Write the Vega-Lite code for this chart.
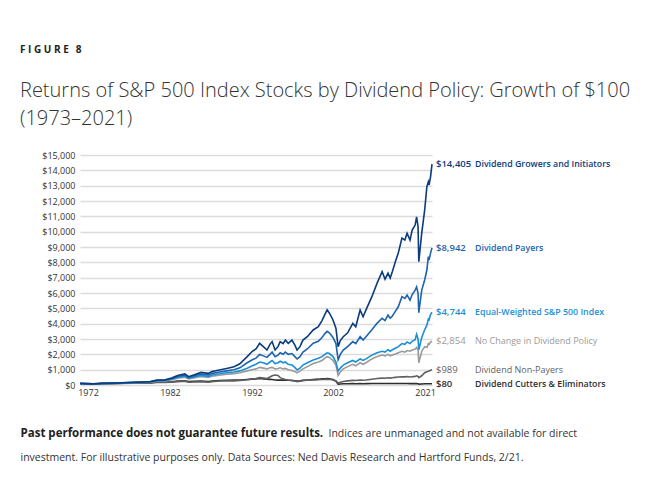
{
"$schema": "https://vega.github.io/schema/vega-lite/v6.json",
"width": 352,
"height": 230,
"autosize": {"type": "none"},
"padding": {"left": 80, "top": 155, "right": 222, "bottom": 115},
"background": "white",
"title": {
  "text": "F I G U R E \u2009 8",
  "subtitle": ["Returns of S&P 500 Index Stocks by Dividend Policy: Growth of $100", "(1973–2021)"],
  "anchor": "start", "frame": "group", "orient": "top",
  "dx": -60, "offset": 22,
  "font": "Open Sans", "fontSize": 10, "fontWeight": "bold", "color": "#222222",
  "subtitleFont": "Open Sans", "subtitleFontSize": 20, "subtitleFontWeight": 300, "subtitleColor": "#333333",
  "subtitleLineHeight": 28, "subtitlePadding": 26
},
"datasets": {
"lines": [
{"s":"C","t":1973,"v":100},{"s":"C","t":1974,"v":85},{"s":"C","t":1974.8,"v":70},{"s":"C","t":1976,"v":90},{"s":"C","t":1978,"v":100},{"s":"C","t":1980,"v":120},{"s":"C","t":1981.5,"v":130},{"s":"C","t":1982.6,"v":140},{"s":"C","t":1983.5,"v":180},{"s":"C","t":1984.5,"v":180},
{"s":"C","t":1985.5,"v":210},{"s":"C","t":1986.3,"v":250},{"s":"C","t":1987.3,"v":280},{"s":"C","t":1987.8,"v":220},{"s":"C","t":1988.5,"v":240},{"s":"C","t":1989.5,"v":260},{"s":"C","t":1990.5,"v":230},{"s":"C","t":1991,"v":260},{"s":"C","t":1992,"v":290},{"s":"C","t":1993,"v":310},
{"s":"C","t":1994,"v":320},{"s":"C","t":1994.8,"v":330},{"s":"C","t":1995.8,"v":360},{"s":"C","t":1996.5,"v":380},{"s":"C","t":1997,"v":400},{"s":"C","t":1997.5,"v":420},{"s":"C","t":1998,"v":400},{"s":"C","t":1998.5,"v":380},{"s":"C","t":1998.9,"v":370},{"s":"C","t":1999.2,"v":360},
{"s":"C","t":1999.6,"v":330},{"s":"C","t":2000,"v":320},{"s":"C","t":2000.3,"v":330},{"s":"C","t":2000.7,"v":320},{"s":"C","t":2001,"v":330},{"s":"C","t":2001.4,"v":310},{"s":"C","t":2001.9,"v":290},{"s":"C","t":2002.3,"v":270},{"s":"C","t":2002.6,"v":250},{"s":"C","t":2003,"v":270},
{"s":"C","t":2003.4,"v":300},{"s":"C","t":2004,"v":330},{"s":"C","t":2004.8,"v":360},{"s":"C","t":2005.5,"v":380},{"s":"C","t":2006,"v":400},{"s":"C","t":2006.4,"v":410},{"s":"C","t":2006.7,"v":420},{"s":"C","t":2007,"v":410},{"s":"C","t":2007.5,"v":360},{"s":"C","t":2007.9,"v":250},
{"s":"C","t":2008.2,"v":60},{"s":"C","t":2008.5,"v":70},{"s":"C","t":2008.9,"v":80},{"s":"C","t":2009.5,"v":85},{"s":"C","t":2010.2,"v":90},{"s":"C","t":2010.6,"v":85},{"s":"C","t":2011.2,"v":95},{"s":"C","t":2011.6,"v":85},{"s":"C","t":2012,"v":90},{"s":"C","t":2012.8,"v":95},
{"s":"C","t":2013.5,"v":100},{"s":"C","t":2014.2,"v":100},{"s":"C","t":2014.6,"v":95},{"s":"C","t":2015,"v":100},{"s":"C","t":2015.3,"v":95},{"s":"C","t":2015.6,"v":95},{"s":"C","t":2016,"v":95},{"s":"C","t":2016.4,"v":95},{"s":"C","t":2016.9,"v":100},{"s":"C","t":2017.3,"v":95},
{"s":"C","t":2017.6,"v":95},{"s":"C","t":2018,"v":90},{"s":"C","t":2018.3,"v":90},{"s":"C","t":2018.7,"v":90},{"s":"C","t":2018.9,"v":90},{"s":"C","t":2019.1,"v":85},{"s":"C","t":2019.2,"v":60},{"s":"C","t":2019.6,"v":70},{"s":"C","t":2020,"v":80},{"s":"C","t":2020.3,"v":80},
{"s":"C","t":2020.5,"v":82},{"s":"C","t":2020.6,"v":80},{"s":"C","t":2020.8,"v":80},{"s":"C","t":2021,"v":80},

{"s":"X","t":1973,"v":100},{"s":"X","t":1974,"v":75},{"s":"X","t":1974.8,"v":55},{"s":"X","t":1976,"v":80},{"s":"X","t":1978,"v":95},{"s":"X","t":1980,"v":130},{"s":"X","t":1981.5,"v":140},{"s":"X","t":1982.6,"v":135},{"s":"X","t":1983.5,"v":190},{"s":"X","t":1984.5,"v":170},
{"s":"X","t":1985.5,"v":190},{"s":"X","t":1986.3,"v":220},{"s":"X","t":1987.3,"v":250},{"s":"X","t":1987.8,"v":180},{"s":"X","t":1988.5,"v":200},{"s":"X","t":1989.5,"v":220},{"s":"X","t":1990.5,"v":180},{"s":"X","t":1991,"v":220},{"s":"X","t":1992,"v":260},{"s":"X","t":1993,"v":280},
{"s":"X","t":1994,"v":270},{"s":"X","t":1994.8,"v":290},{"s":"X","t":1995.8,"v":340},{"s":"X","t":1996.5,"v":400},{"s":"X","t":1997,"v":420},{"s":"X","t":1997.5,"v":480},{"s":"X","t":1998,"v":450},{"s":"X","t":1998.5,"v":420},{"s":"X","t":1998.9,"v":520},{"s":"X","t":1999.2,"v":600},
{"s":"X","t":1999.6,"v":650},{"s":"X","t":2000,"v":620},{"s":"X","t":2000.3,"v":480},{"s":"X","t":2000.7,"v":400},{"s":"X","t":2001,"v":360},{"s":"X","t":2001.4,"v":330},{"s":"X","t":2001.9,"v":300},{"s":"X","t":2002.3,"v":260},{"s":"X","t":2002.6,"v":220},{"s":"X","t":2003,"v":250},
{"s":"X","t":2003.4,"v":290},{"s":"X","t":2004,"v":320},{"s":"X","t":2004.8,"v":330},{"s":"X","t":2005.5,"v":340},{"s":"X","t":2006,"v":360},{"s":"X","t":2006.4,"v":370},{"s":"X","t":2006.7,"v":380},{"s":"X","t":2007,"v":370},{"s":"X","t":2007.5,"v":330},{"s":"X","t":2007.9,"v":260},
{"s":"X","t":2008.2,"v":130},{"s":"X","t":2008.5,"v":180},{"s":"X","t":2008.9,"v":230},{"s":"X","t":2009.5,"v":270},{"s":"X","t":2010.2,"v":300},{"s":"X","t":2010.6,"v":290},{"s":"X","t":2011.2,"v":330},{"s":"X","t":2011.6,"v":310},{"s":"X","t":2012,"v":330},{"s":"X","t":2012.8,"v":380},
{"s":"X","t":2013.5,"v":420},{"s":"X","t":2014.2,"v":450},{"s":"X","t":2014.6,"v":440},{"s":"X","t":2015,"v":470},{"s":"X","t":2015.3,"v":450},{"s":"X","t":2015.6,"v":470},{"s":"X","t":2016,"v":500},{"s":"X","t":2016.4,"v":520},{"s":"X","t":2016.9,"v":540},{"s":"X","t":2017.3,"v":530},
{"s":"X","t":2017.6,"v":550},{"s":"X","t":2018,"v":520},{"s":"X","t":2018.3,"v":540},{"s":"X","t":2018.7,"v":560},{"s":"X","t":2018.9,"v":600},{"s":"X","t":2019.1,"v":560},{"s":"X","t":2019.2,"v":480},{"s":"X","t":2019.6,"v":600},{"s":"X","t":2020,"v":800},{"s":"X","t":2020.3,"v":870},
{"s":"X","t":2020.5,"v":900},{"s":"X","t":2020.6,"v":920},{"s":"X","t":2020.8,"v":960},{"s":"X","t":2021,"v":989},

{"s":"N","t":1973,"v":100},{"s":"N","t":1974,"v":85},{"s":"N","t":1974.8,"v":70},{"s":"N","t":1976,"v":95},{"s":"N","t":1978,"v":115},{"s":"N","t":1980,"v":140},{"s":"N","t":1981.5,"v":165},{"s":"N","t":1982.6,"v":185},{"s":"N","t":1983.5,"v":250},{"s":"N","t":1984.5,"v":260},
{"s":"N","t":1985.5,"v":340},{"s":"N","t":1986.3,"v":440},{"s":"N","t":1987.3,"v":510},{"s":"N","t":1987.8,"v":400},{"s":"N","t":1988.5,"v":460},{"s":"N","t":1989.5,"v":550},{"s":"N","t":1990.5,"v":500},{"s":"N","t":1991,"v":570},{"s":"N","t":1992,"v":640},{"s":"N","t":1993,"v":700},
{"s":"N","t":1994,"v":740},{"s":"N","t":1994.8,"v":800},{"s":"N","t":1995.8,"v":920},{"s":"N","t":1996.5,"v":1000},{"s":"N","t":1997,"v":1050},{"s":"N","t":1997.5,"v":1150},{"s":"N","t":1998,"v":1100},{"s":"N","t":1998.5,"v":1050},{"s":"N","t":1998.9,"v":1120},{"s":"N","t":1999.2,"v":1150},
{"s":"N","t":1999.6,"v":1050},{"s":"N","t":2000,"v":1080},{"s":"N","t":2000.3,"v":1120},{"s":"N","t":2000.7,"v":1050},{"s":"N","t":2001,"v":1080},{"s":"N","t":2001.4,"v":1000},{"s":"N","t":2001.9,"v":950},{"s":"N","t":2002.3,"v":880},{"s":"N","t":2002.6,"v":800},{"s":"N","t":2003,"v":900},
{"s":"N","t":2003.4,"v":1050},{"s":"N","t":2004,"v":1200},{"s":"N","t":2004.8,"v":1400},{"s":"N","t":2005.5,"v":1500},{"s":"N","t":2006,"v":1600},{"s":"N","t":2006.4,"v":1750},{"s":"N","t":2006.7,"v":1850},{"s":"N","t":2007,"v":1800},{"s":"N","t":2007.5,"v":1600},{"s":"N","t":2007.9,"v":1300},
{"s":"N","t":2008.2,"v":620},{"s":"N","t":2008.5,"v":850},{"s":"N","t":2008.9,"v":1050},{"s":"N","t":2009.5,"v":1200},{"s":"N","t":2010.2,"v":1350},{"s":"N","t":2010.6,"v":1250},{"s":"N","t":2011.2,"v":1450},{"s":"N","t":2011.6,"v":1350},{"s":"N","t":2012,"v":1450},{"s":"N","t":2012.8,"v":1700},
{"s":"N","t":2013.5,"v":1850},{"s":"N","t":2014.2,"v":1950},{"s":"N","t":2014.6,"v":1900},{"s":"N","t":2015,"v":2000},{"s":"N","t":2015.3,"v":1900},{"s":"N","t":2015.6,"v":1950},{"s":"N","t":2016,"v":2020},{"s":"N","t":2016.4,"v":2100},{"s":"N","t":2016.9,"v":2200},{"s":"N","t":2017.3,"v":2150},
{"s":"N","t":2017.6,"v":2250},{"s":"N","t":2018,"v":2200},{"s":"N","t":2018.3,"v":2280},{"s":"N","t":2018.7,"v":2350},{"s":"N","t":2018.9,"v":2450},{"s":"N","t":2019.1,"v":2250},{"s":"N","t":2019.2,"v":1450},{"s":"N","t":2019.6,"v":2200},{"s":"N","t":2020,"v":2500},{"s":"N","t":2020.3,"v":2450},
{"s":"N","t":2020.5,"v":2700},{"s":"N","t":2020.6,"v":2650},{"s":"N","t":2020.8,"v":2800},{"s":"N","t":2021,"v":2854},

{"s":"E","t":1973,"v":100},{"s":"E","t":1974,"v":85},{"s":"E","t":1974.8,"v":70},{"s":"E","t":1976,"v":100},{"s":"E","t":1978,"v":120},{"s":"E","t":1980,"v":150},{"s":"E","t":1981.5,"v":180},{"s":"E","t":1982.6,"v":200},{"s":"E","t":1983.5,"v":280},{"s":"E","t":1984.5,"v":285},
{"s":"E","t":1985.5,"v":380},{"s":"E","t":1986.3,"v":500},{"s":"E","t":1987.3,"v":580},{"s":"E","t":1987.8,"v":440},{"s":"E","t":1988.5,"v":520},{"s":"E","t":1989.5,"v":620},{"s":"E","t":1990.5,"v":560},{"s":"E","t":1991,"v":650},{"s":"E","t":1992,"v":730},{"s":"E","t":1993,"v":800},
{"s":"E","t":1994,"v":850},{"s":"E","t":1994.8,"v":920},{"s":"E","t":1995.8,"v":1090},{"s":"E","t":1996.5,"v":1250},{"s":"E","t":1997,"v":1350},{"s":"E","t":1997.5,"v":1500},{"s":"E","t":1998,"v":1450},{"s":"E","t":1998.5,"v":1350},{"s":"E","t":1998.9,"v":1500},{"s":"E","t":1999.2,"v":1600},
{"s":"E","t":1999.6,"v":1400},{"s":"E","t":2000,"v":1450},{"s":"E","t":2000.3,"v":1550},{"s":"E","t":2000.7,"v":1450},{"s":"E","t":2001,"v":1500},{"s":"E","t":2001.4,"v":1350},{"s":"E","t":2001.9,"v":1300},{"s":"E","t":2002.3,"v":1150},{"s":"E","t":2002.6,"v":980},{"s":"E","t":2003,"v":1100},
{"s":"E","t":2003.4,"v":1300},{"s":"E","t":2004,"v":1450},{"s":"E","t":2004.8,"v":1630},{"s":"E","t":2005.5,"v":1750},{"s":"E","t":2006,"v":1850},{"s":"E","t":2006.4,"v":2000},{"s":"E","t":2006.7,"v":2100},{"s":"E","t":2007,"v":2050},{"s":"E","t":2007.5,"v":1850},{"s":"E","t":2007.9,"v":1500},
{"s":"E","t":2008.2,"v":900},{"s":"E","t":2008.5,"v":1100},{"s":"E","t":2008.9,"v":1300},{"s":"E","t":2009.5,"v":1450},{"s":"E","t":2010.2,"v":1600},{"s":"E","t":2010.6,"v":1500},{"s":"E","t":2011.2,"v":1700},{"s":"E","t":2011.6,"v":1600},{"s":"E","t":2012,"v":1700},{"s":"E","t":2012.8,"v":1950},
{"s":"E","t":2013.5,"v":2100},{"s":"E","t":2014.2,"v":2200},{"s":"E","t":2014.6,"v":2150},{"s":"E","t":2015,"v":2300},{"s":"E","t":2015.3,"v":2200},{"s":"E","t":2015.6,"v":2300},{"s":"E","t":2016,"v":2400},{"s":"E","t":2016.4,"v":2500},{"s":"E","t":2016.9,"v":2700},{"s":"E","t":2017.3,"v":2650},
{"s":"E","t":2017.6,"v":2800},{"s":"E","t":2018,"v":2700},{"s":"E","t":2018.3,"v":2850},{"s":"E","t":2018.7,"v":2950},{"s":"E","t":2018.9,"v":3300},{"s":"E","t":2019.1,"v":3000},{"s":"E","t":2019.2,"v":2300},{"s":"E","t":2019.6,"v":3100},{"s":"E","t":2020,"v":3600},{"s":"E","t":2020.3,"v":3900},
{"s":"E","t":2020.5,"v":4300},{"s":"E","t":2020.6,"v":4250},{"s":"E","t":2020.8,"v":4600},{"s":"E","t":2021,"v":4744},

{"s":"P","t":1973,"v":100},{"s":"P","t":1974,"v":88},{"s":"P","t":1974.8,"v":75},{"s":"P","t":1976,"v":105},{"s":"P","t":1978,"v":125},{"s":"P","t":1980,"v":160},{"s":"P","t":1981.5,"v":190},{"s":"P","t":1982.6,"v":215},{"s":"P","t":1983.5,"v":300},{"s":"P","t":1984.5,"v":310},
{"s":"P","t":1985.5,"v":420},{"s":"P","t":1986.3,"v":560},{"s":"P","t":1987.3,"v":650},{"s":"P","t":1987.8,"v":500},{"s":"P","t":1988.5,"v":590},{"s":"P","t":1989.5,"v":720},{"s":"P","t":1990.5,"v":660},{"s":"P","t":1991,"v":760},{"s":"P","t":1992,"v":850},{"s":"P","t":1993,"v":920},
{"s":"P","t":1994,"v":990},{"s":"P","t":1994.8,"v":1120},{"s":"P","t":1995.8,"v":1450},{"s":"P","t":1996.5,"v":1650},{"s":"P","t":1997,"v":1750},{"s":"P","t":1997.5,"v":2000},{"s":"P","t":1998,"v":1900},{"s":"P","t":1998.5,"v":1800},{"s":"P","t":1998.9,"v":2000},{"s":"P","t":1999.2,"v":2150},
{"s":"P","t":1999.6,"v":1850},{"s":"P","t":2000,"v":1950},{"s":"P","t":2000.3,"v":2100},{"s":"P","t":2000.7,"v":2000},{"s":"P","t":2001,"v":2150},{"s":"P","t":2001.4,"v":2000},{"s":"P","t":2001.9,"v":2050},{"s":"P","t":2002.3,"v":1850},{"s":"P","t":2002.6,"v":1700},{"s":"P","t":2003,"v":1850},
{"s":"P","t":2003.4,"v":2150},{"s":"P","t":2004,"v":2350},{"s":"P","t":2004.8,"v":2720},{"s":"P","t":2005.5,"v":2850},{"s":"P","t":2006,"v":3100},{"s":"P","t":2006.4,"v":3350},{"s":"P","t":2006.7,"v":3500},{"s":"P","t":2007,"v":3400},{"s":"P","t":2007.5,"v":3100},{"s":"P","t":2007.9,"v":2700},
{"s":"P","t":2008.2,"v":1650},{"s":"P","t":2008.5,"v":2000},{"s":"P","t":2008.9,"v":2280},{"s":"P","t":2009.5,"v":2500},{"s":"P","t":2010.2,"v":2830},{"s":"P","t":2010.6,"v":2700},{"s":"P","t":2011.2,"v":3150},{"s":"P","t":2011.6,"v":2930},{"s":"P","t":2012,"v":3150},{"s":"P","t":2012.8,"v":3600},
{"s":"P","t":2013.5,"v":4020},{"s":"P","t":2014.2,"v":4350},{"s":"P","t":2014.6,"v":4200},{"s":"P","t":2015,"v":4560},{"s":"P","t":2015.3,"v":4350},{"s":"P","t":2015.6,"v":4500},{"s":"P","t":2016,"v":4800},{"s":"P","t":2016.4,"v":5100},{"s":"P","t":2016.9,"v":5760},{"s":"P","t":2017.3,"v":5650},
{"s":"P","t":2017.6,"v":5870},{"s":"P","t":2018,"v":5540},{"s":"P","t":2018.3,"v":5900},{"s":"P","t":2018.7,"v":6190},{"s":"P","t":2018.9,"v":6400},{"s":"P","t":2019.1,"v":6000},{"s":"P","t":2019.2,"v":4720},{"s":"P","t":2019.6,"v":6190},{"s":"P","t":2020,"v":6850},{"s":"P","t":2020.3,"v":7500},
{"s":"P","t":2020.5,"v":8370},{"s":"P","t":2020.6,"v":8150},{"s":"P","t":2020.8,"v":8600},{"s":"P","t":2021,"v":8942},

{"s":"G","t":1973,"v":100},{"s":"G","t":1974,"v":90},{"s":"G","t":1974.8,"v":75},{"s":"G","t":1976,"v":110},{"s":"G","t":1978,"v":130},{"s":"G","t":1980,"v":170},{"s":"G","t":1981.5,"v":200},{"s":"G","t":1982.6,"v":230},{"s":"G","t":1983.5,"v":320},{"s":"G","t":1984.5,"v":330},
{"s":"G","t":1985.5,"v":450},{"s":"G","t":1986.3,"v":620},{"s":"G","t":1987.3,"v":720},{"s":"G","t":1987.8,"v":540},{"s":"G","t":1988.5,"v":660},{"s":"G","t":1989.5,"v":820},{"s":"G","t":1990.5,"v":760},{"s":"G","t":1991,"v":880},{"s":"G","t":1992,"v":980},{"s":"G","t":1993,"v":1080},
{"s":"G","t":1994,"v":1190},{"s":"G","t":1994.8,"v":1380},{"s":"G","t":1995.8,"v":1850},{"s":"G","t":1996.5,"v":2200},{"s":"G","t":1997,"v":2350},{"s":"G","t":1997.5,"v":2720},{"s":"G","t":1998,"v":2500},{"s":"G","t":1998.5,"v":2280},{"s":"G","t":1998.9,"v":2650},{"s":"G","t":1999.2,"v":2830},
{"s":"G","t":1999.6,"v":2280},{"s":"G","t":2000,"v":2500},{"s":"G","t":2000.3,"v":2830},{"s":"G","t":2000.7,"v":2700},{"s":"G","t":2001,"v":2930},{"s":"G","t":2001.4,"v":2720},{"s":"G","t":2001.9,"v":2930},{"s":"G","t":2002.3,"v":2600},{"s":"G","t":2002.6,"v":2280},{"s":"G","t":2003,"v":2500},
{"s":"G","t":2003.4,"v":2930},{"s":"G","t":2004,"v":3150},{"s":"G","t":2004.8,"v":3590},{"s":"G","t":2005.5,"v":3800},{"s":"G","t":2006,"v":4200},{"s":"G","t":2006.4,"v":4600},{"s":"G","t":2006.7,"v":4900},{"s":"G","t":2007,"v":4700},{"s":"G","t":2007.5,"v":4240},{"s":"G","t":2007.9,"v":3700},
{"s":"G","t":2008.2,"v":2500},{"s":"G","t":2008.5,"v":2900},{"s":"G","t":2008.9,"v":3150},{"s":"G","t":2009.5,"v":3400},{"s":"G","t":2010.2,"v":4020},{"s":"G","t":2010.6,"v":3800},{"s":"G","t":2011.2,"v":4890},{"s":"G","t":2011.6,"v":4450},{"s":"G","t":2012,"v":4900},{"s":"G","t":2012.8,"v":5760},
{"s":"G","t":2013.5,"v":6630},{"s":"G","t":2014.2,"v":7390},{"s":"G","t":2014.6,"v":6900},{"s":"G","t":2015,"v":7300},{"s":"G","t":2015.3,"v":6980},{"s":"G","t":2015.6,"v":7400},{"s":"G","t":2016,"v":8040},{"s":"G","t":2016.4,"v":8600},{"s":"G","t":2016.9,"v":9580},{"s":"G","t":2017.3,"v":9450},
{"s":"G","t":2017.6,"v":9900},{"s":"G","t":2018,"v":9450},{"s":"G","t":2018.3,"v":10100},{"s":"G","t":2018.7,"v":10430},{"s":"G","t":2018.9,"v":10970},{"s":"G","t":2019.1,"v":10320},{"s":"G","t":2019.2,"v":8040},{"s":"G","t":2019.6,"v":9900},{"s":"G","t":2020,"v":11400},{"s":"G","t":2020.3,"v":12930},
{"s":"G","t":2020.5,"v":13250},{"s":"G","t":2020.6,"v":13040},{"s":"G","t":2020.8,"v":13580},{"s":"G","t":2021,"v":14405}
],
"labels": [
{"s":"G","w":"b","t":2021,"v":14405,"lab":"$14,405","nm":"Dividend Growers and Initiators"},
{"s":"P","w":"b","t":2021,"v":8942,"lab":"$8,942","nm":"Dividend Payers"},
{"s":"E","w":"b","t":2021,"v":4744,"lab":"$4,744","nm":"Equal-Weighted S&P 500 Index"},
{"s":"N","w":"n","t":2021,"v":2854,"lab":"$2,854","nm":"No Change in Dividend Policy"},
{"s":"X","w":"n","t":2021,"v":989,"lab":"$989","nm":"Dividend Non-Payers"},
{"s":"C","w":"b","t":2021,"v":80,"lab":"$80","nm":"Dividend Cutters & Eliminators"}
]
},
"layer": [
{
  "data": {"name": "lines"},
  "mark": {"type": "line", "strokeWidth": 1.6},
  "encoding": {
    "x": {"field": "t", "type": "quantitative",
      "scale": {"domain": [1973, 2021], "nice": false, "zero": false},
      "axis": {"values": [1974.09, 1985.27, 1996.45, 2007.5, 2020.05],
        "labelExpr": "datum.value < 1980 ? '1972' : datum.value < 1990 ? '1982' : datum.value < 2000 ? '1992' : datum.value < 2010 ? '2002' : '2021'",
        "labelPadding": 3, "grid": false,
        "title": "Past performance does not guarantee future results.",
        "titleX": -60, "titleY": 51, "titleAlign": "left", "titleBaseline": "alphabetic",
        "titleFontWeight": "bold", "titleFontSize": 11.5, "titleColor": "#222222", "titleFont": "Open Sans"}},
    "y": {"field": "v", "type": "quantitative",
      "scale": {"domain": [0, 15000], "nice": false},
      "axis": {"values": [0,1000,2000,3000,4000,5000,6000,7000,8000,9000,10000,11000,12000,13000,14000,15000],
        "format": "$,d", "labelPadding": 5, "grid": true, "gridColor": "#dcdcdc", "gridWidth": 1.5,
        "title": "Indices are unmanaged and not available for direct",
        "titleAngle": 0, "titleX": 248, "titleY": 281, "titleAlign": "left", "titleBaseline": "alphabetic",
        "titleFontWeight": "normal", "titleFontSize": 10.5, "titleColor": "#333333", "titleFont": "Open Sans"}},
    "color": {"field": "s", "type": "nominal",
      "scale": {"domain": ["G","P","E","N","X","C"], "range": ["#0b3c7d","#1d63ae","#1b8fd6","#9a9a9a","#5f5f5f","#2e2e2e"]},
      "legend": null}
  }
},
{
  "data": {"name": "labels"},
  "transform": [{"filter": "datum.w == 'b'"}],
  "mark": {"type": "text", "align": "left", "baseline": "middle", "dx": 4, "font": "Open Sans", "fontSize": 9.5, "fontWeight": 600},
  "encoding": {
    "x": {"field": "t", "type": "quantitative"},
    "y": {"field": "v", "type": "quantitative",
      "axis": {"orient": "right", "labels": false, "ticks": false, "domain": false, "grid": false,
        "title": "investment. For illustrative purposes only. Data Sources: Ned Davis Research and Hartford Funds, 2/21.",
        "titleAngle": 0, "titleX": -412, "titleY": 305, "titleAlign": "left", "titleBaseline": "alphabetic",
        "titleFontWeight": "normal", "titleFontSize": 10.5, "titleColor": "#333333", "titleFont": "Open Sans"}},
    "text": {"field": "lab"},
    "color": {"field": "s", "type": "nominal", "legend": null}
  }
},
{
  "data": {"name": "labels"},
  "transform": [{"filter": "datum.w == 'b'"}],
  "mark": {"type": "text", "align": "left", "baseline": "middle", "dx": 43, "font": "Open Sans", "fontSize": 8.8, "fontWeight": 600},
  "encoding": {
    "x": {"field": "t", "type": "quantitative"},
    "y": {"field": "v", "type": "quantitative", "axis": null},
    "text": {"field": "nm"},
    "color": {"field": "s", "type": "nominal", "legend": null}
  }
},
{
  "data": {"name": "labels"},
  "transform": [{"filter": "datum.w == 'n'"}],
  "mark": {"type": "text", "align": "left", "baseline": "middle", "dx": 4, "font": "Open Sans", "fontSize": 9.5, "fontWeight": 400},
  "encoding": {
    "x": {"field": "t", "type": "quantitative"},
    "y": {"field": "v", "type": "quantitative", "axis": null},
    "text": {"field": "lab"},
    "color": {"field": "s", "type": "nominal", "legend": null}
  }
},
{
  "data": {"name": "labels"},
  "transform": [{"filter": "datum.w == 'n'"}],
  "mark": {"type": "text", "align": "left", "baseline": "middle", "dx": 43, "font": "Open Sans", "fontSize": 9, "fontWeight": 400},
  "encoding": {
    "x": {"field": "t", "type": "quantitative"},
    "y": {"field": "v", "type": "quantitative", "axis": null},
    "text": {"field": "nm"},
    "color": {"field": "s", "type": "nominal", "legend": null}
  }
}
],
"resolve": {"axis": {"y": "independent"}},
"config": {
  "view": {"stroke": null},
  "axis": {"domain": false, "ticks": false, "labelFont": "Open Sans", "labelFontSize": 9, "labelColor": "#333333"}
}
}
